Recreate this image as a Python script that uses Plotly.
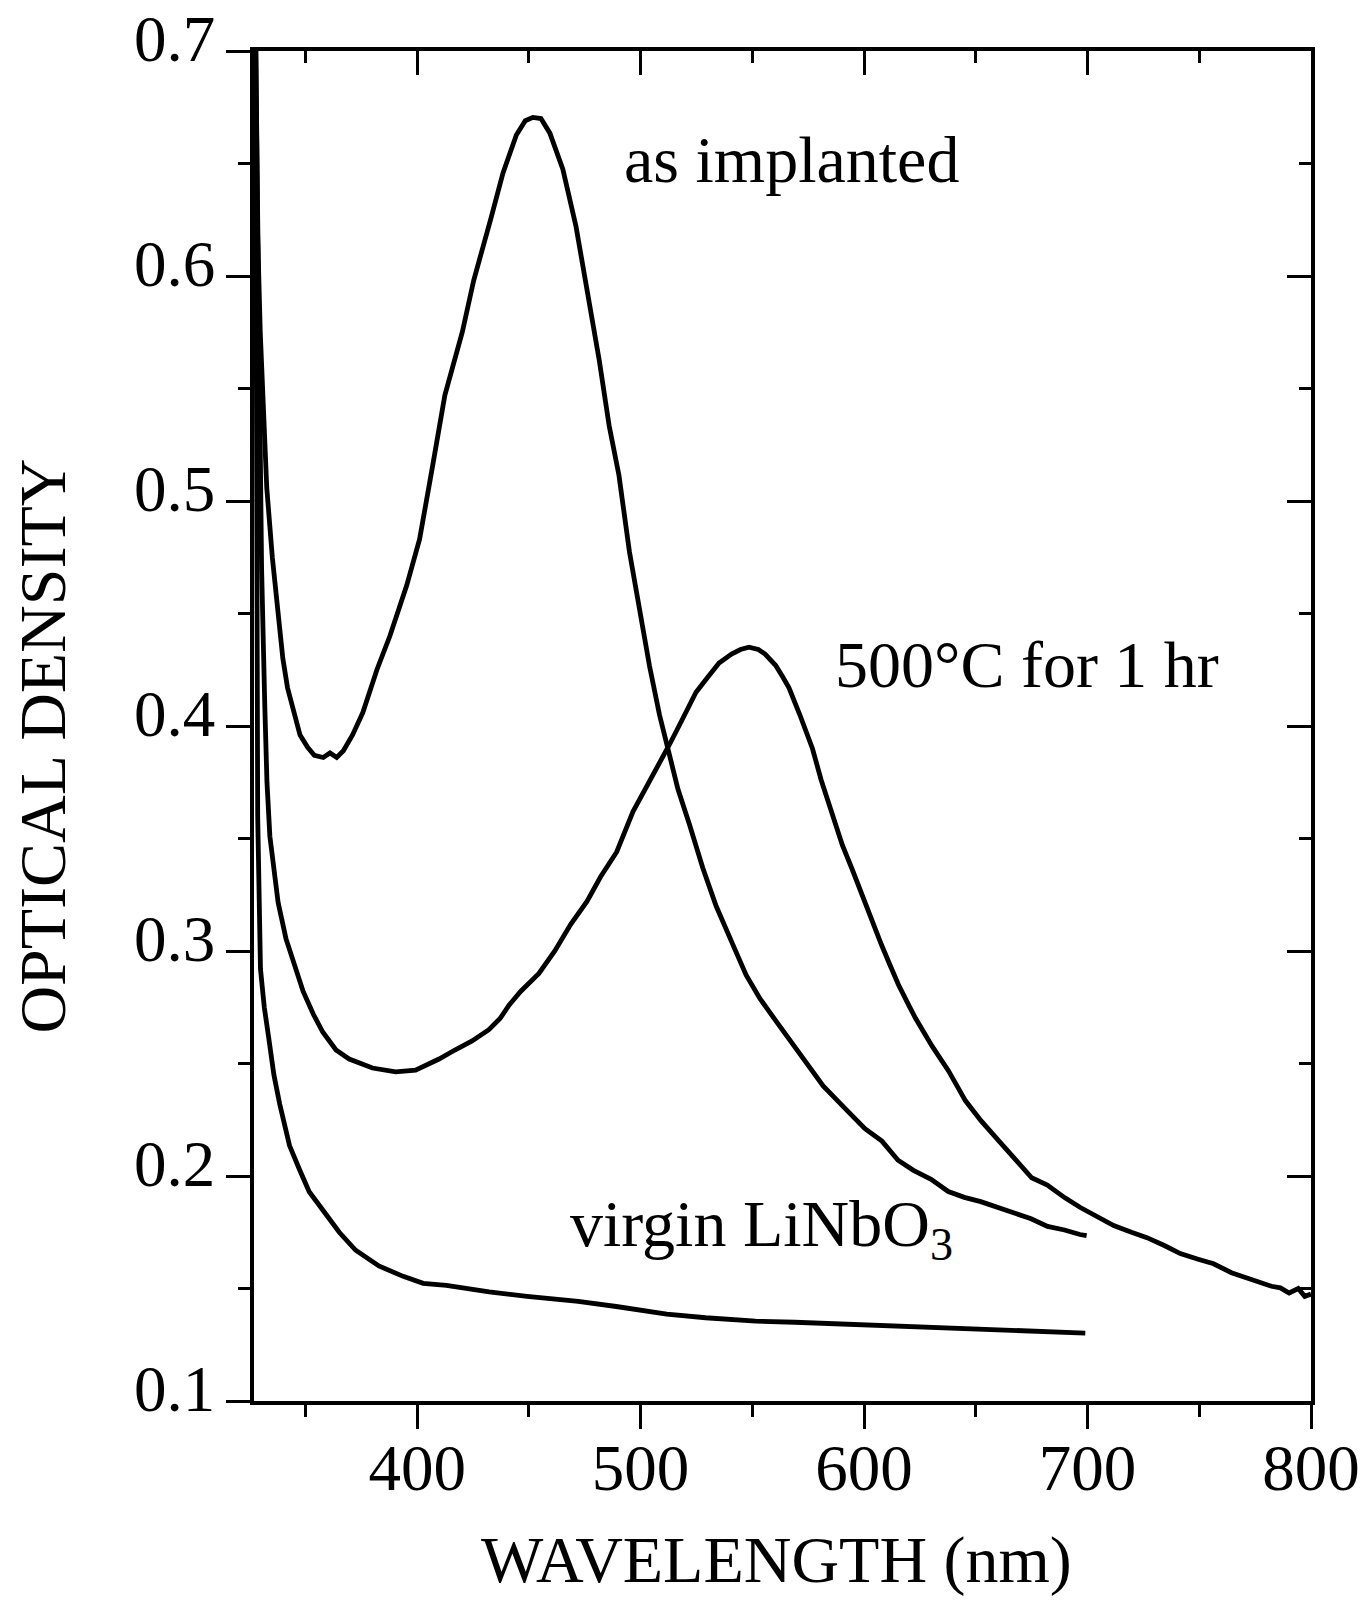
import plotly.graph_objects as go

# ---------------- data ----------------
as_implanted_nm = [327.6, 328.6, 329.8, 331.3, 332.7, 335.2, 337.8, 339.9, 342.0, 345.1, 347.6, 351.0, 354.0,
                   358.0, 361.0, 364.0, 367.0, 371.1, 375.7, 382.0, 387.8, 395.35, 401.1, 407.0, 412.4,
                   420.2, 425.3, 432.9, 438.4, 444.4, 448.4, 451.8, 455.4, 459.4, 465.2, 471.1, 475.6,
                   481.5, 485.9, 490.3, 495.0, 499.5, 504.0, 508.45, 512.0, 516.7, 521.8, 527.8, 533.8,
                   538.7, 542.7, 547.2, 553.3, 560.7, 568.0, 576.8, 581.7, 591.9, 600.4, 608.0, 615.2,
                   622.1, 630.0, 637.7, 644.9, 652.2, 659.8, 667.4, 674.75, 682.1, 689.7, 696.6, 699.6]
as_implanted_od = [0.72, 0.62, 0.575, 0.54, 0.506, 0.475, 0.447, 0.43, 0.417, 0.405, 0.396, 0.3905, 0.387,
                   0.386, 0.388, 0.386, 0.389, 0.396, 0.406, 0.425, 0.44, 0.4625, 0.483, 0.516, 0.547,
                   0.575, 0.598, 0.6252, 0.6457, 0.6627, 0.669, 0.6705, 0.670, 0.6635, 0.6475, 0.622,
                   0.5964, 0.5625, 0.5336, 0.5115, 0.4775, 0.4523, 0.4266, 0.405, 0.39, 0.372, 0.3565,
                   0.337, 0.32, 0.308, 0.2996, 0.2894, 0.279, 0.2687, 0.259, 0.2467, 0.24, 0.2296,
                   0.221, 0.2155, 0.207, 0.2025, 0.1985, 0.1931, 0.1905, 0.1886, 0.186, 0.183, 0.181,
                   0.1776, 0.176, 0.174, 0.1735]

annealed_nm = [327.6, 329.0, 330.4, 331.8, 332.8, 334.1, 337.8, 341.3, 344.55, 349.0, 353.5, 357.75, 363.7,
               369.6, 380.0, 390.4, 399.3, 409.8, 416.9, 424.6, 432.1, 437.1, 441.2, 446.3, 454.5, 461.6,
               468.8, 476.0, 482.1, 489.3, 496.6, 502.75, 507.9, 513.05, 518.2, 524.8, 529.5, 535.1,
               540.7, 544.7, 548.5, 552.7, 555.7, 560.4, 563.5, 566.4, 571.25, 576.9, 580.8, 585.85,
               590.3, 594.8, 599.0, 603.7, 607.7, 611.5, 615.4, 620.2, 623.1, 630.45, 637.8, 645.4,
               652.4, 660.3, 667.7, 675.0, 682.0, 689.9, 696.8, 704.8, 711.7, 719.65, 726.6, 734.6,
               741.5, 749.5, 756.4, 764.4, 771.3, 777.3, 782.3, 786.3, 790.2, 794.3, 797.2, 800]
annealed_od = [0.72, 0.58, 0.47, 0.41, 0.375, 0.351, 0.3215, 0.3055, 0.296, 0.282, 0.272, 0.264, 0.256,
               0.252, 0.248, 0.2463, 0.247, 0.252, 0.256, 0.260, 0.265, 0.27, 0.276, 0.282, 0.29,
               0.300, 0.312, 0.322, 0.333, 0.344, 0.362, 0.373, 0.383, 0.392, 0.402, 0.415, 0.421,
               0.428, 0.432, 0.434, 0.435, 0.434, 0.432, 0.427, 0.422, 0.417, 0.405, 0.39, 0.376,
               0.36, 0.347, 0.336, 0.325, 0.314, 0.303, 0.294, 0.285, 0.2755, 0.27, 0.2577, 0.2467,
               0.2334, 0.2245, 0.2156, 0.207, 0.1992, 0.196, 0.1903, 0.186, 0.1814, 0.178, 0.175,
               0.1726, 0.169, 0.1655, 0.163, 0.161, 0.157, 0.1548, 0.153, 0.151, 0.1503, 0.148,
               0.150, 0.1465, 0.1475]

virgin_nm = [327.6, 328.0, 328.65, 329.9, 331.6, 333.5, 335.9, 338.5, 340.6, 342.9, 347.3, 351.7, 357.7,
             365.15, 372.5, 382.9, 393.75, 402.7, 413.1, 425.0, 432.2, 449.2, 472.1, 489.1, 511.7, 529.1,
             551.5, 569.0, 591.3, 609.0, 631.5, 649.0, 669.0, 684.0, 699.0]
virgin_od = [0.72, 0.50, 0.36, 0.292, 0.275, 0.262, 0.245, 0.232, 0.222, 0.2135, 0.203, 0.193, 0.185,
             0.175, 0.167, 0.160, 0.1554, 0.1523, 0.1514, 0.1496, 0.1485, 0.1465, 0.1443, 0.142,
             0.1386, 0.137, 0.1355, 0.135, 0.1342, 0.1335, 0.1324, 0.1318, 0.131, 0.1306, 0.1302]

x_major_ticks = [400, 500, 600, 700, 800]
x_minor_ticks = [350, 450, 550, 650, 750]
y_major_ticks = [0.1, 0.2, 0.3, 0.4, 0.5, 0.6, 0.7]
y_tick_labels = ["0.1", "0.2", "0.3", "0.4", "0.5", "0.6", "0.7"]
y_minor_ticks = [0.15, 0.25, 0.35, 0.45, 0.55, 0.65]

labels = ["as implanted", "500°C for 1 hr", "virgin LiNbO<sub>3</sub>"]
label_x = [491.8, 586.0, 467.3]
label_y = [0.6517, 0.4273, 0.1768]

x_title = "WAVELENGTH (nm)"
y_title = "OPTICAL DENSITY"

X_RANGE = [327, 800]
Y_RANGE = [0.1, 0.7]

FONT = "Liberation Serif, Times New Roman, serif"
BLACK = "#000000"

fig = go.Figure()
for xs, ys in [(as_implanted_nm, as_implanted_od), (annealed_nm, annealed_od), (virgin_nm, virgin_od)]:
    fig.add_trace(go.Scatter(x=xs, y=ys, mode="lines",
                             line=dict(color=BLACK, width=4.8), hoverinfo="skip"))
# helper trace for the mirrored (top/right) axes
fig.add_trace(go.Scatter(x=[None], y=[None], xaxis="x2", yaxis="y2", mode="lines",
                         showlegend=False, hoverinfo="skip"))

for txt, lx, ly in zip(labels, label_x, label_y):
    fig.add_annotation(x=lx, y=ly, text=txt, showarrow=False, xanchor="left", yanchor="middle",
                       font=dict(family=FONT, size=66, color=BLACK))

# axis titles
fig.add_annotation(xref="paper", yref="paper", x=0.4943, y=-0.118, text=x_title, showarrow=False,
                   xanchor="center", yanchor="middle", font=dict(family=FONT, size=66, color=BLACK))
fig.add_annotation(xref="paper", yref="paper", x=-0.2, y=0.4852, text=y_title, showarrow=False,
                   textangle=-90, xanchor="center", yanchor="middle",
                   font=dict(family=FONT, size=66, color=BLACK))

common_axis = dict(showgrid=False, zeroline=False, showline=True, linecolor=BLACK, linewidth=3.5,
                   tickcolor=BLACK, tickwidth=3, automargin=False)

fig.update_layout(
    width=1362, height=1602,
    margin=dict(l=254, r=51, t=51, b=201),
    paper_bgcolor="white", plot_bgcolor="white",
    showlegend=False,
    font=dict(family=FONT, color=BLACK),
    xaxis=dict(range=X_RANGE, tickvals=x_major_ticks, ticks="outside", ticklen=24,
               tickfont=dict(family=FONT, size=65, color=BLACK), ticklabelstandoff=-17,
               ticklabeloverflow="allow",
               minor=dict(tickvals=x_minor_ticks, ticks="outside", ticklen=12, tickwidth=3, tickcolor=BLACK),
               **common_axis),
    yaxis=dict(range=Y_RANGE, tickvals=y_major_ticks, ticktext=y_tick_labels, ticks="outside", ticklen=24,
               tickfont=dict(family=FONT, size=65, color=BLACK), ticklabelstandoff=-2, ticklabelshift=-13,
               minor=dict(tickvals=y_minor_ticks, ticks="outside", ticklen=12, tickwidth=3, tickcolor=BLACK),
               **common_axis),
    xaxis2=dict(range=X_RANGE, overlaying="x", side="top", anchor="y2", tickvals=x_major_ticks,
                ticks="inside", ticklen=24, showticklabels=False,
                minor=dict(tickvals=x_minor_ticks, ticks="inside", ticklen=12, tickwidth=3, tickcolor=BLACK),
                **common_axis),
    yaxis2=dict(range=Y_RANGE, overlaying="y", side="right", anchor="x2", tickvals=y_major_ticks,
                ticks="inside", ticklen=24, showticklabels=False,
                minor=dict(tickvals=y_minor_ticks, ticks="inside", ticklen=12, tickwidth=3, tickcolor=BLACK),
                **common_axis),
)

fig.write_html("out.html", config={"displayModeBar": False},
               post_script="document.body.style.margin='0px';")
